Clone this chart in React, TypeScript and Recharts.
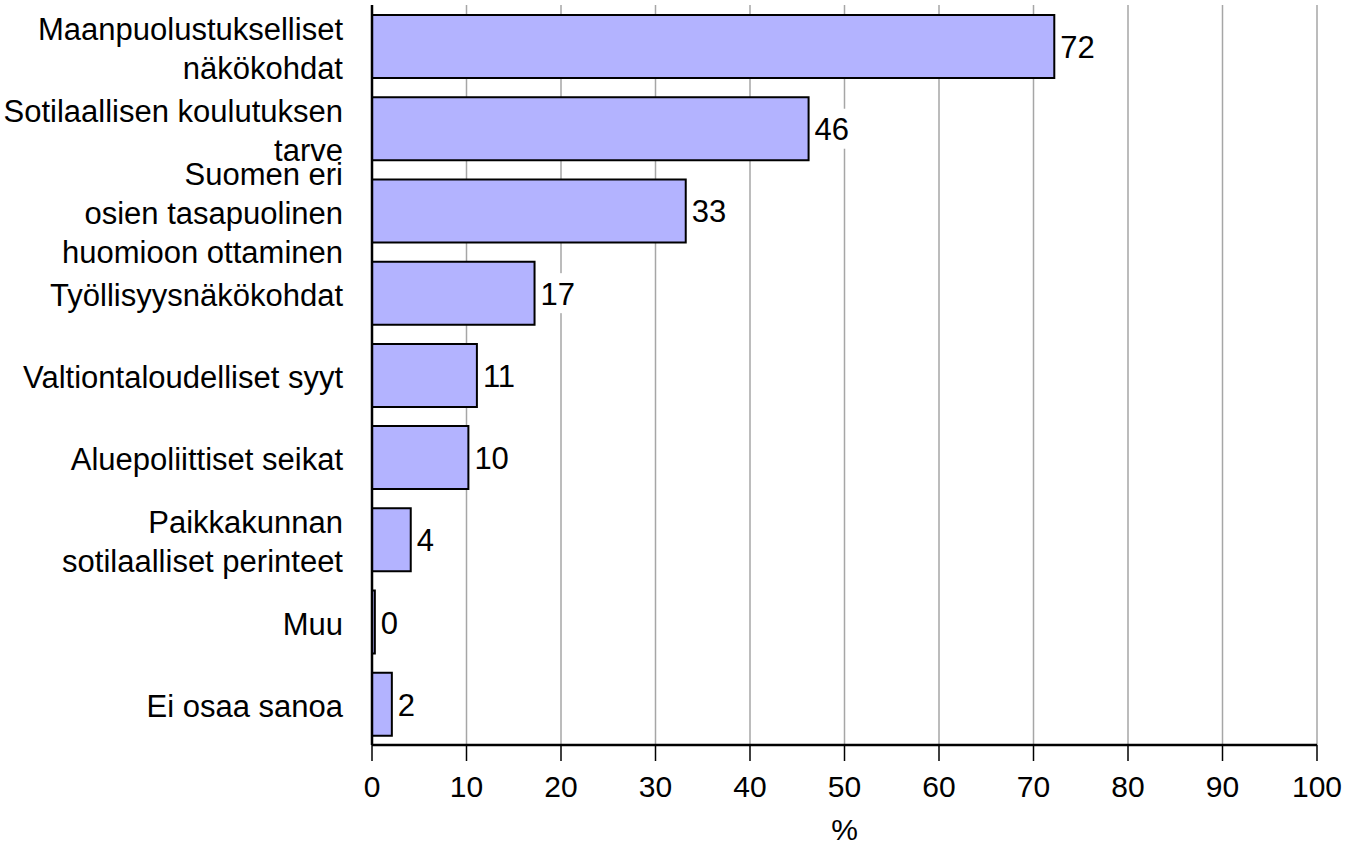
import { BarChart, Bar, XAxis, YAxis, CartesianGrid, LabelList } from 'recharts';

// categories as shown on the axis (line breaks as in the original)
const categories = [
  'Maanpuolustukselliset\nnäkökohdat',
  'Sotilaallisen koulutuksen\ntarve',
  'Suomen eri\nosien tasapuolinen\nhuomioon ottaminen',
  'Työllisyysnäkökohdat',
  'Valtiontaloudelliset syyt',
  'Aluepoliittiset seikat',
  'Paikkakunnan\nsotilaalliset perinteet',
  'Muu',
  'Ei osaa sanoa',
];

const shares = [72.2, 46.2, 33.2, 17.2, 11.1, 10.2, 4.1, 0.3, 2.1];

const xTicks = [0, 10, 20, 30, 40, 50, 60, 70, 80, 90, 100];

const data = categories.map((name, i) => ({ name, value: shares[i] }));

const FONT = '"Liberation Sans", Arial, sans-serif';
const LINE_H = 39;

const CategoryTick = (props: any) => {
  const { x, y, payload } = props;
  const lines = String(payload.value).split('\n');
  const startDy = -((lines.length - 1) * LINE_H) / 2;
  return (
    <text x={x} y={y + 2} textAnchor="end" fontSize={31} fontFamily={FONT} fill="#000" dominantBaseline="central">
      {lines.map((line, i) => (
        <tspan key={i} x={x} dy={i === 0 ? startDy : LINE_H}>{line}</tspan>
      ))}
    </text>
  );
};

const ValueLabel = (props: any) => {
  const { x, y, width, height, value } = props;
  const txt = String(Math.round(value));
  const tx = x + width + 6;
  const cy = y + height / 2;
  const w = txt.length * 17 + 2;
  return (
    <g>
      <rect x={tx - 1} y={cy - 20} width={w} height={40} fill="#fff" />
      <text x={tx} y={cy + 1} fontSize={31} fontFamily={FONT} fill="#000" dominantBaseline="central">{txt}</text>
    </g>
  );
};

export default function App() {
  return (
    <div style={{ width: 1362, height: 848, background: '#fff', fontFamily: FONT }}>
      <style>{`body{margin:0}`}</style>
      <BarChart
        width={1362}
        height={848}
        data={data}
        layout="vertical"
        margin={{ top: 5, right: 45, bottom: 0, left: 0 }}
        barSize={63}
      >
        <CartesianGrid horizontal={false} vertical stroke="#a6a6a6" strokeWidth={1.5} />
        <XAxis
          type="number"
          domain={[0, 100]}
          ticks={xTicks}
          interval={0}
          height={103}
          tickSize={16}
          tickMargin={15}
          axisLine={{ stroke: '#000', strokeWidth: 2.5 }}
          tickLine={{ stroke: '#000', strokeWidth: 1.5 }}
          tick={{ fontSize: 30, fill: '#000', fontFamily: FONT }}
          label={{ value: '%', position: 'insideBottom', offset: 8, fontSize: 30, fill: '#000', fontFamily: FONT }}
        />
        <XAxis
          xAxisId="top"
          orientation="top"
          type="number"
          domain={[0, 100]}
          height={0}
          tick={false}
          tickLine={false}
          axisLine={{ stroke: '#000', strokeWidth: 2 }}
        />
        <YAxis
          type="category"
          dataKey="name"
          width={372}
          interval={0}
          tickSize={0}
          tickMargin={29}
          tickLine={false}
          axisLine={{ stroke: '#000', strokeWidth: 2.5 }}
          tick={<CategoryTick />}
        />
        <YAxis
          yAxisId="right"
          orientation="right"
          type="category"
          dataKey="name"
          width={0}
          tick={false}
          tickLine={false}
          axisLine={{ stroke: '#6e6e6e', strokeWidth: 2 }}
        />
        <Bar dataKey="value" fill="#b3b3ff" stroke="#000" strokeWidth={2} isAnimationActive={false}>
          <LabelList dataKey="value" content={<ValueLabel />} />
        </Bar>
      </BarChart>
    </div>
  );
}
